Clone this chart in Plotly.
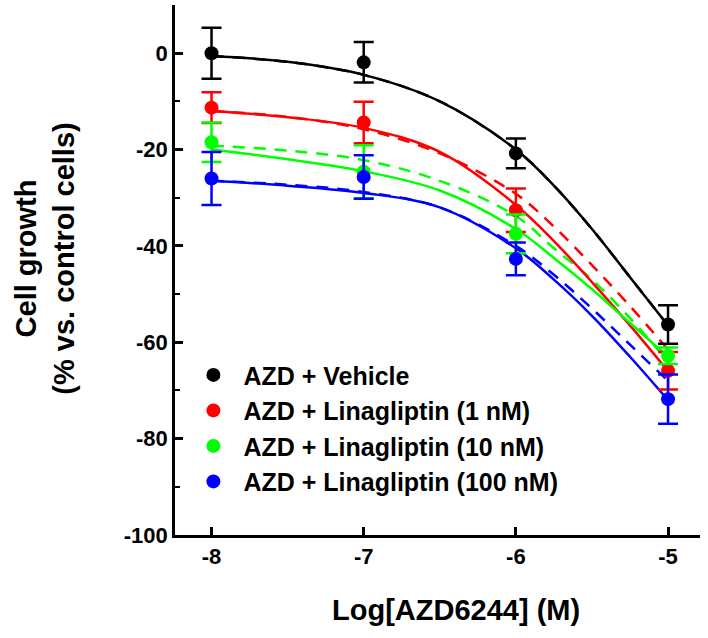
import plotly.graph_objects as go

# ---- data ----
log_conc = [-8, -7, -6, -5]
series_names = ["AZD + Vehicle", "AZD + Linagliptin (1 nM)",
                "AZD + Linagliptin (10 nM)", "AZD + Linagliptin (100 nM)"]
colors = ["#000000", "#ff0000", "#00ff00", "#0000ff"]

vehicle_mean = [0.0, -1.9, -20.8, -56.3]
vehicle_err = [5.3, 4.2, 3.1, 4.0]
lina1_mean = [-11.3, -14.4, -32.6, -65.9]
lina1_err = [3.2, 4.3, 4.5, 3.9]
lina10_mean = [-18.5, -24.6, -37.5, -62.8]
lina10_err = [4.1, 5.5, 4.0, 1.7]
lina100_mean = [-26.0, -25.7, -42.7, -71.8]
lina100_err = [5.5, 4.5, 3.4, 5.1]

# fitted curves
curve_x = [-8, -7.5, -7, -6.5, -6, -5.75, -5.5, -5.25, -5]
vehicle_fit = [-0.6, -1.8, -4.5, -10.0, -20.0, -27.5, -36.5, -46.5, -56.5]
lina1_fit = [-12.0, -13.3, -15.5, -20.5, -31.5, -39.0, -47.5, -56.5, -66.0]
lina10_fit = [-20.0, -22.0, -24.5, -28.5, -36.5, -42.5, -49.0, -56.0, -63.0]
lina100_fit = [-26.5, -27.5, -29.0, -32.0, -40.5, -47.0, -54.5, -63.0, -72.0]
# expected (dashed) curves
vehicle_exp = [-0.6, -1.8, -4.5, -10.0, -20.0, -27.5, -36.5, -46.5, -56.5]
lina1_exp = [-12.0, -13.2, -15.8, -20.8, -29.2, -36.0, -44.0, -52.5, -61.5]
lina10_exp = [-19.2, -20.2, -22.2, -26.5, -33.8, -40.5, -47.0, -55.0, -64.0]
lina100_exp = [-26.5, -27.3, -28.8, -32.0, -40.0, -46.0, -53.0, -60.5, -68.0]

means = [vehicle_mean, lina1_mean, lina10_mean, lina100_mean]
errs = [vehicle_err, lina1_err, lina10_err, lina100_err]
fits = [vehicle_fit, lina1_fit, lina10_fit, lina100_fit]
exps = [vehicle_exp, lina1_exp, lina10_exp, lina100_exp]

x_ticks = [-8, -7, -6, -5]
y_ticks = [0, -20, -40, -60, -80, -100]

FONT = "Liberation Sans, Arial, sans-serif"

fig = go.Figure()

# dashed expected curves
for i in range(4):
    fig.add_trace(go.Scatter(
        x=curve_x, y=exps[i], mode="lines",
        line=dict(color=colors[i], width=2.5, dash="12px,9px", shape="spline"),
        showlegend=False, hoverinfo="skip"))
# solid fitted curves
for i in range(4):
    fig.add_trace(go.Scatter(
        x=curve_x, y=fits[i], mode="lines",
        line=dict(color=colors[i], width=2.5, shape="spline"),
        showlegend=False, hoverinfo="skip"))
# data points with error bars
for i in range(4):
    fig.add_trace(go.Scatter(
        x=log_conc, y=means[i], mode="markers", name=series_names[i],
        marker=dict(color=colors[i], size=14, line=dict(width=0)),
        error_y=dict(type="data", array=errs[i], visible=True,
                     color=colors[i], thickness=2.5, width=10),
        legendgroup=str(i)))

fig.update_layout(
    width=708, height=638,
    margin=dict(l=175, r=8, t=5, b=103),
    paper_bgcolor="white", plot_bgcolor="white",
    font=dict(family=FONT, color="black", size=22, weight="bold"),
    showlegend=True,
    legend=dict(x=0.016, y=0.345, xanchor="left", yanchor="top",
                bgcolor="rgba(0,0,0,0)",
                font=dict(family=FONT, size=25, color="black", weight="bold"),
                tracegroupgap=0, itemsizing="trace", itemwidth=50),
    xaxis=dict(range=[-8.24, -4.79], tickvals=x_ticks,
               ticktext=[str(v) for v in x_ticks],
               showgrid=False, zeroline=False, showline=True,
               linecolor="black", linewidth=2.5,
               ticks="inside", ticklen=8, tickwidth=2.5, tickcolor="black",
               tickfont=dict(family=FONT, size=22, weight="bold")),
    yaxis=dict(range=[-100, 10], tickvals=y_ticks,
               ticktext=[str(v) for v in y_ticks],
               showgrid=False, zeroline=False, showline=True,
               linecolor="black", linewidth=2.5,
               ticks="inside", ticklen=8, tickwidth=2.5, tickcolor="black",
               minor=dict(tickvals=[-10, -30, -50, -70, -90], ticks="inside",
                          ticklen=5, tickwidth=2, tickcolor="black"),
               tickfont=dict(family=FONT, size=22, weight="bold")),
    annotations=[
        dict(text="Log[AZD6244] (M)", xref="paper", yref="paper",
             x=0.535, y=-0.142, xanchor="center", yanchor="middle",
             showarrow=False,
             font=dict(family=FONT, size=29, weight="bold", color="black")),
        dict(text="Cell growth<br>(% vs. control cells)", xref="paper",
             yref="paper", x=-0.248, y=0.521, xanchor="center",
             yanchor="middle", textangle=-90, showarrow=False,
             font=dict(family=FONT, size=29, weight="bold", color="black")),
    ],
)

fig.write_html("out.html",
               config={"displayModeBar": False},
               post_script="document.body.style.margin='0';")
